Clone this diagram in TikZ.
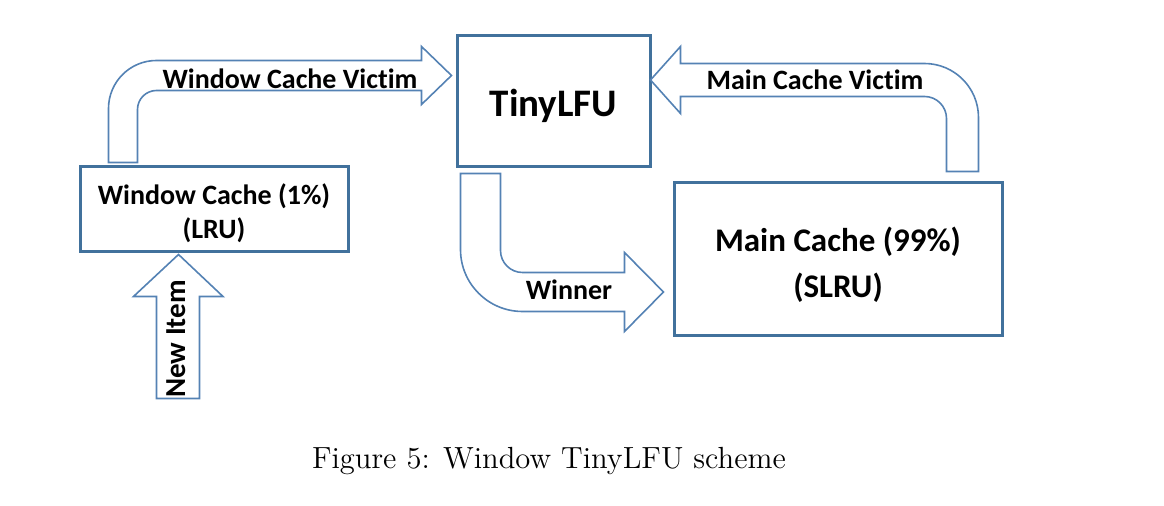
\documentclass[tikz,border=0pt]{standalone}
\usepackage{fontspec}
\newfontfamily\carlito{Carlito}[Ligatures=NoCommon]
\definecolor{boxblue}{RGB}{65,113,156}
\definecolor{arrowblue}{RGB}{84,130,180}
\begin{document}
\begin{tikzpicture}[x=0.5pt,y=0.5pt,
    cachebox/.style={draw=boxblue,line width=1.5pt,inner sep=0pt,align=center},
    blockarrow/.style={draw=arrowblue,line width=0.8pt,fill=white},
    lbl/.style={inner sep=0pt,anchor=base,font=\carlito\bfseries\fontsize{14}{16}\selectfont}]
    \useasboundingbox (0,0) rectangle (1164,-506);

    \node[cachebox,minimum width=134pt,minimum height=42.5pt,
        font=\carlito\bfseries\fontsize{14}{17}\selectfont] (wc) at (214,-209.5)
        {\rule{0pt}{14pt}Window Cache (1\%)\\(LRU)};
    \node[cachebox,minimum width=96.5pt,minimum height=65.5pt,
        font=\carlito\bfseries\fontsize{19.5}{22}\selectfont] (tlfu) at (553.5,-101.5)
        {\rule{0pt}{18pt}TinyLFU};
    \node[cachebox,minimum width=164pt,minimum height=76.5pt,
        font=\carlito\bfseries\fontsize{16.5}{23}\selectfont] (mc) at (838,-259.5)
        {\rule{0pt}{17.5pt}Main Cache (99\%)\\(SLRU)};

    \draw[blockarrow] ([shift={(30,3)}]wc.north west) -- ++(0,54)
        arc[start angle=180,end angle=90,radius=48] -- ++(265,0) -- ++(0,14)
        -- ++(30,-29) -- ++(-30,-29) -- ++(0,14) -- ++(-265,0)
        arc[start angle=90,end angle=180,radius=19] -- ++(0,-53) -- cycle;
    \draw[blockarrow] ([shift={(-25,10)}]mc.north east) -- ++(0,54)
        arc[start angle=0,end angle=90,radius=54] -- ++(-244,0) -- ++(0,17)
        -- ++(-30,-33.5) -- ++(30,-33.5) -- ++(0,17) -- ++(244,0)
        arc[start angle=90,end angle=0,radius=22] -- ++(0,-53) -- cycle;
    \draw[blockarrow] ([shift={(5,-5)}]tlfu.south west) -- ++(0,-76)
        arc[start angle=180,end angle=270,radius=62] -- ++(102,0) -- ++(0,-20)
        -- ++(39,39.5) -- ++(-39,39.5) -- ++(0,-20) -- ++(-102,0)
        arc[start angle=270,end angle=180,radius=22] -- ++(0,77) -- cycle;
    \draw[blockarrow] ([shift={(100,-1)}]wc.south west) -- ++(44.5,-42) -- ++(-23.5,0)
        -- ++(0,-102) -- ++(-43,0) -- ++(0,102) -- ++(-23,0) -- cycle;

    \node[lbl] (wcv) at (290,-89) {Window Cache Victim};
    \node[lbl] (mcv) at (815,-90) {Main Cache Victim};
    \node[lbl] (win) at (569,-300) {Winner};
    \node[lbl,rotate=90,font=\carlito\bfseries\fontsize{14.5}{16}\selectfont] (new)
        at (185,-339) {New Item};

    \node[anchor=base,inner sep=0pt,font=\fontsize{14.8}{18}\selectfont] (caption)
        at (549,-469) {\scalebox{1.033}{Figure 5: Window TinyLFU scheme}};
\end{tikzpicture}
\end{document}
